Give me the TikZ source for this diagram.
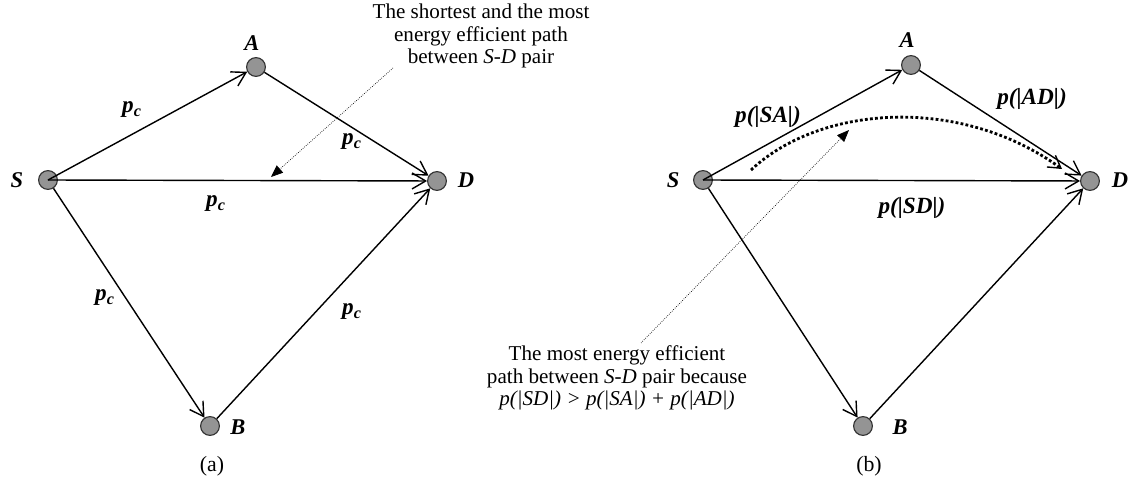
\documentclass[tikz,border=0pt]{standalone}
\usepackage{fontspec}
\setmainfont{Liberation Serif}
\usetikzlibrary{arrows.meta, positioning}

\begin{document}
\begin{tikzpicture}[
    x=0.025cm, y=-0.025cm,
    vertex/.style={circle, draw=black!80, fill=black!42, line width=0.8pt,
        minimum size=0.47cm, inner sep=0pt},
    vname/.style={font=\fontsize{16}{18}\selectfont\bfseries\itshape, inner sep=0pt},
    cost/.style={font=\fontsize{16.5}{18}\selectfont\bfseries\itshape, inner sep=0pt},
    note/.style={align=center, font=\fontsize{15}{15.8}\selectfont, inner sep=0pt},
    caption/.style={font=\fontsize{15.5}{18}\selectfont, inner sep=0pt},
    link/.style={-{Straight Barb[length=0.34cm, width=0.4cm]}, line width=1pt},
    pointer/.style={-{Triangle[length=0.3cm, width=0.24cm]}, densely dotted, line width=0.5pt},
    route/.style={-{Straight Barb[length=0.3cm, width=0.36cm, line width=1pt]},
        line width=2pt, dash pattern=on 2pt off 1.6pt}
]
\useasboundingbox (0,0) rectangle (1131,486);

% Panel (a): equal link costs
\node[vertex] (Sa) at (48,180) {};
\node[vertex] (Aa) at (256,67) {};
\node[vertex] (Da) at (437,181) {};
\node[vertex] (Ba) at (210,426) {};
\node[vname] (SaN) at (17,180) {S};
\node[vname] (AaN) at (252,43) {A};
\node[vname] (DaN) at (466,180) {D};
\node[vname] (BaN) at (238,427) {B};

\draw[link] (Sa.center) -- (Aa);
\draw[link] (Aa) -- (Da);
\draw[link] (Sa.center) -- (Da);
\draw[link] (Sa) -- (Ba);
\draw[link] (Ba) -- (Da);

\node[cost] (ca1) at (132,110) {p\textsubscript{c}};
\node[cost] (ca2) at (352,142) {p\textsubscript{c}};
\node[cost] (ca3) at (216,204) {p\textsubscript{c}};
\node[cost] (ca4) at (105,298) {p\textsubscript{c}};
\node[cost] (ca5) at (352,312) {p\textsubscript{c}};

\node[note] (noteA) at (481,36) {The shortest and the most\\energy efficient path\\between \textit{S-D} pair};
\coordinate (fromA) at (393,68);
\coordinate (tipA) at (271,177);
\draw[pointer] (fromA) -- (tipA);

\node[caption] (capA) at (212,466) {(a)};

% Panel (b): distance dependent link costs
\node[vertex] (Sb) at (703,180) {};
\node[vertex] (Ab) at (911,65) {};
\node[vertex] (Db) at (1090,181) {};
\node[vertex] (Bb) at (863,426) {};
\node[vname] (SbN) at (673,180) {S};
\node[vname] (AbN) at (907,40) {A};
\node[vname] (DbN) at (1120,180) {D};
\node[vname] (BbN) at (900,427) {B};

\draw[link] (Sb.center) -- (Ab);
\draw[link] (Ab) -- (Db);
\draw[link] (Sb.center) -- (Db);
\draw[link] (Sb) -- (Bb);
\draw[link] (Bb) -- (Db);

\node[cost] (cb1) at (768,117) {p(|SA|)};
\node[cost] (cb2) at (1032,99) {p(|AD|)};
\node[cost] (cb3) at (912,208) {p(|SD|)};

\coordinate (routeS) at (751,170);
\coordinate (routeD) at (1062,169);
\draw[route] (routeS) .. controls (820,105) and (960,95) .. (routeD);

\node[note] (noteB) at (617,378) {The most energy efficient\\path between \textit{S-D} pair because\\\textit{p(|SD|) > p(|SA|) + p(|AD|)}};
\coordinate (fromB) at (641,343);
\coordinate (tipB) at (849,130);
\draw[pointer] (fromB) -- (tipB);

\node[caption] (capB) at (869,466) {(b)};
\end{tikzpicture}
\end{document}
